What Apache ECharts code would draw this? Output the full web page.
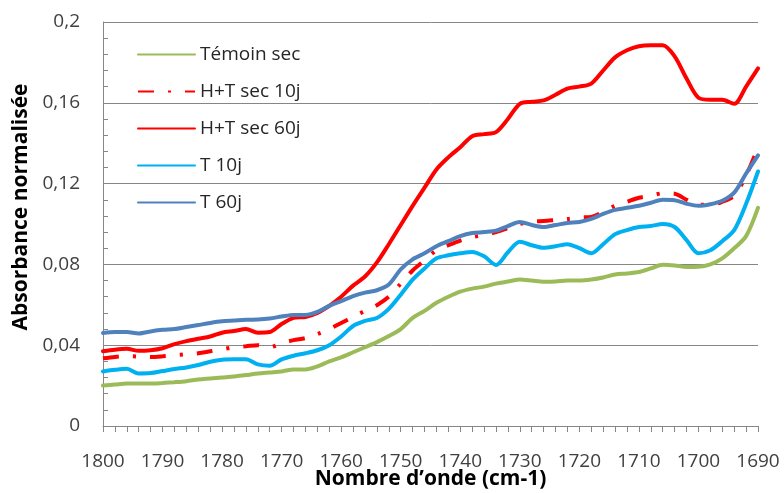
<!DOCTYPE html>
<html>
<head>
<meta charset="utf-8">
<script src="https://cdn.jsdelivr.net/npm/echarts@6/dist/echarts.min.js"></script>
<style>
  html, body { margin: 0; padding: 0; background: #ffffff; }
  #chart { width: 784px; height: 493px; }
</style>
</head>
<body>
<div id="chart"></div>
<script>
// Wavenumbers (cm-1), every 2 units from 1800 down to 1690
const wavenumbers = [
  1800, 1798, 1796, 1794, 1792, 1790, 1788, 1786, 1784, 1782,
  1780, 1778, 1776, 1774, 1772, 1770, 1768, 1766, 1764, 1762,
  1760, 1758, 1756, 1754, 1752, 1750, 1748, 1746, 1744, 1742,
  1740, 1738, 1736, 1734, 1732, 1730, 1728, 1726, 1724, 1722,
  1720, 1718, 1716, 1714, 1712, 1710, 1708, 1706, 1704, 1702,
  1700, 1698, 1696, 1694, 1692, 1690
];

const temoinSec = [
  0.0200, 0.0205, 0.0210, 0.0210, 0.0210, 0.0213, 0.0217, 0.0222, 0.0230, 0.0235,
  0.0240, 0.0245, 0.0252, 0.0260, 0.0265, 0.0270, 0.0280, 0.0280, 0.0295, 0.0320,
  0.0340, 0.0365, 0.0390, 0.0415, 0.0445, 0.0480, 0.0535, 0.0570, 0.0610, 0.0640,
  0.0665, 0.0680, 0.0690, 0.0705, 0.0715, 0.0725, 0.0720, 0.0714, 0.0715, 0.0720,
  0.0720, 0.0725, 0.0735, 0.0750, 0.0755, 0.0762, 0.0780, 0.0798, 0.0795, 0.0787,
  0.0788, 0.0800, 0.0830, 0.0880, 0.0940, 0.1080
];

const htSec10j = [
  0.0335, 0.0342, 0.0346, 0.0344, 0.0342, 0.0345, 0.0350, 0.0355, 0.0360, 0.0370,
  0.0380, 0.0390, 0.0395, 0.0400, 0.0390, 0.0410, 0.0425, 0.0435, 0.0455, 0.0480,
  0.0510, 0.0540, 0.0570, 0.0598, 0.0640, 0.0705, 0.0770, 0.0820, 0.0870, 0.0895,
  0.0918, 0.0935, 0.0945, 0.0960, 0.0980, 0.1000, 0.1012, 0.1015, 0.1020, 0.1025,
  0.1032, 0.1035, 0.1060, 0.1090, 0.1110, 0.1130, 0.1140, 0.1152, 0.1150, 0.1120,
  0.1095, 0.1095, 0.1110, 0.1140, 0.1240, 0.1380
];

const htSec60j = [
  0.0370, 0.0378, 0.0382, 0.0372, 0.0375, 0.0385, 0.0405, 0.0420, 0.0432, 0.0443,
  0.0462, 0.0470, 0.0480, 0.0462, 0.0465, 0.0505, 0.0535, 0.0540, 0.0560, 0.0595,
  0.0640, 0.0695, 0.0740, 0.0810, 0.0900, 0.0995, 0.1090, 0.1180, 0.1270, 0.1330,
  0.1380, 0.1435, 0.1445, 0.1455, 0.1520, 0.1595, 0.1605, 0.1612, 0.1640, 0.1670,
  0.1680, 0.1695, 0.1760, 0.1825, 0.1860, 0.1880, 0.1885, 0.1885, 0.1830, 0.1720,
  0.1625, 0.1615, 0.1615, 0.1595, 0.1680, 0.1770
];

const t10j = [
  0.0270, 0.0278, 0.0283, 0.0260, 0.0262, 0.0272, 0.0282, 0.0290, 0.0302, 0.0318,
  0.0328, 0.0330, 0.0330, 0.0305, 0.0298, 0.0330, 0.0348, 0.0360, 0.0375, 0.0400,
  0.0443, 0.0495, 0.0520, 0.0535, 0.0580, 0.0650, 0.0725, 0.0780, 0.0830, 0.0845,
  0.0855, 0.0862, 0.0840, 0.0797, 0.0860, 0.0912, 0.0895, 0.0882, 0.0890, 0.0900,
  0.0880, 0.0855, 0.0900, 0.0950, 0.0970, 0.0985, 0.0990, 0.1000, 0.0985, 0.0920,
  0.0855, 0.0870, 0.0915, 0.0970, 0.1100, 0.1260
];

const t60j = [
  0.0460, 0.0465, 0.0465, 0.0458, 0.0468, 0.0476, 0.0480, 0.0490, 0.0500, 0.0510,
  0.0518, 0.0522, 0.0526, 0.0527, 0.0532, 0.0542, 0.0550, 0.0550, 0.0565, 0.0595,
  0.0618, 0.0643, 0.0660, 0.0672, 0.0700, 0.0775, 0.0825, 0.0855, 0.0890, 0.0915,
  0.0940, 0.0955, 0.0960, 0.0967, 0.0990, 0.1010, 0.0995, 0.0985, 0.0995, 0.1005,
  0.1010, 0.1025, 0.1050, 0.1070, 0.1080, 0.1090, 0.1105, 0.1120, 0.1118, 0.1100,
  0.1090, 0.1098, 0.1115, 0.1155, 0.1250, 0.1340
];

const seriesNames = ['Témoin sec', 'H+T sec 10j', 'H+T sec 60j', 'T 10j', 'T 60j'];
const seriesValues = [temoinSec, htSec10j, htSec60j, t10j, t60j];
const seriesColors = ['#9BBB59', '#FF0000', '#FF0000', '#00B0F0', '#4F81BD'];

const FONT = '"Open Sans", "Noto Sans", sans-serif';
const pairs = vals => wavenumbers.map((w, i) => [w, vals[i]]);

const series = seriesNames.map((name, i) => ({
  name,
  type: 'line',
  data: pairs(seriesValues[i]),
  smooth: 0.3,
  showSymbol: false,
  symbol: 'none',
  color: seriesColors[i],
  lineStyle: {
    width: 4,
    color: seriesColors[i],
    type: i === 1 ? [16, 14, 3, 14] : 'solid',
    cap: i === 1 ? 'butt' : 'round'
  },
  emphasis: { disabled: true }
}));

const chart = echarts.init(document.getElementById('chart'), null, { renderer: 'canvas' });
chart.setOption({
  animation: false,
  backgroundColor: '#ffffff',
  grid: {
    left: 103, right: 26, top: 22, bottom: 67,
    containLabel: false,
    outerBoundsMode: 'none'
  },
  legend: {
    orient: 'vertical',
    left: 132,
    top: 39.5,
    itemGap: 17,
    itemWidth: 57,
    itemHeight: 20,
    data: seriesNames,
    // legend keys are plain line samples, no marker
    itemStyle: { opacity: 0, color: 'transparent', borderWidth: 0 },
    textStyle: { fontFamily: FONT, fontSize: 19, lineHeight: 20, color: '#262626' },
    selectedMode: false
  },
  xAxis: {
    type: 'value',
    min: 1690,
    max: 1800,
    interval: 10,
    inverse: true,
    name: 'Nombre d’onde (cm-1)',
    nameLocation: 'middle',
    nameGap: 43,
    nameMoveOverlap: false,
    nameTextStyle: { fontFamily: FONT, fontSize: 21, fontWeight: 'bold', color: '#000000' },
    axisLine: { show: true, lineStyle: { color: '#868686', width: 1 } },
    axisTick: { show: true, length: 6, lineStyle: { color: '#868686' } },
    minorTick: { show: true, splitNumber: 5, length: 6, lineStyle: { color: '#868686' } },
    axisLabel: {
      fontFamily: FONT, fontSize: 19, color: '#404040', margin: 26,
      formatter: v => String(v)
    },
    splitLine: { show: false }
  },
  yAxis: {
    type: 'value',
    min: 0,
    max: 0.2,
    interval: 0.04,
    name: 'Absorbance normalisée',
    nameLocation: 'middle',
    nameGap: 71,
    nameMoveOverlap: false,
    nameTextStyle: {
      fontFamily: FONT, fontSize: 21, fontWeight: 'bold', color: '#000000',
      padding: [0, 0, 0, 34]
    },
    axisLine: { show: true, lineStyle: { color: '#868686', width: 1 } },
    axisTick: { show: true, inside: true, length: 5, lineStyle: { color: '#868686' } },
    minorTick: { show: true, splitNumber: 5, length: 5, lineStyle: { color: '#868686' } },
    axisLabel: {
      fontFamily: FONT, fontSize: 19, color: '#404040', margin: 23,
      formatter: v => String(Number(v.toFixed(3))).replace('.', ',')
    },
    splitLine: { show: true, lineStyle: { color: '#868686', width: 1 } }
  },
  series
});
</script>
</body>
</html>
